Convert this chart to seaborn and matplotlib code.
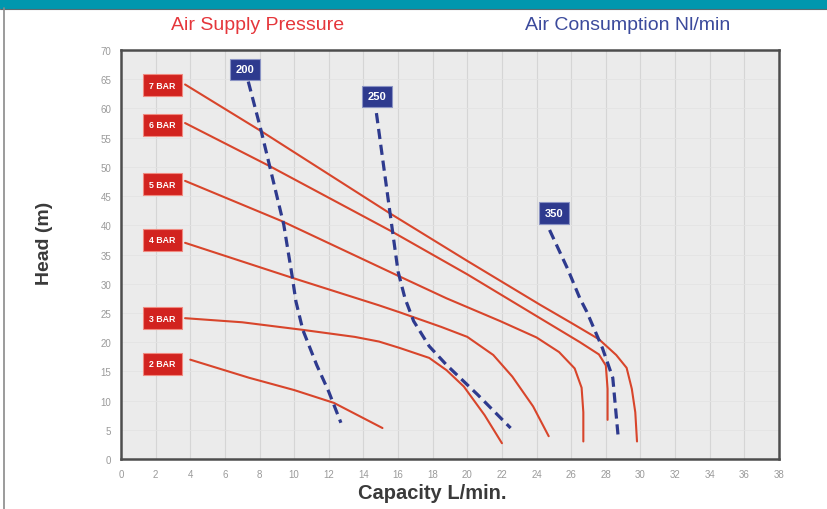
import matplotlib
matplotlib.use("Agg")
import matplotlib.pyplot as plt
import pandas as pd
import seaborn as sns
from matplotlib.patches import Rectangle
from matplotlib.lines import Line2D

# pressure curves (capacity L/min, head m)
bar7_x = [3.7, 8.1, 15.5, 20.0, 24.2, 26.0, 27.6, 28.6, 29.2, 29.5, 29.7, 29.8]
bar7_y = [64.1, 56.1, 42.1, 33.9, 26.4, 23.3, 20.5, 17.8, 15.6, 12.0, 8.0, 3.0]
bar6_x = [3.7, 8.6, 15.6, 20.0, 24.2, 26.5, 27.6, 28.0, 28.1, 28.1]
bar6_y = [57.5, 50.1, 39.0, 31.6, 24.1, 20.0, 17.9, 16.0, 12.0, 6.7]
bar5_x = [3.7, 9.3, 15.9, 18.8, 21.9, 24.0, 25.3, 26.2, 26.6, 26.7, 26.7]
bar5_y = [47.6, 40.7, 31.5, 27.5, 23.6, 20.8, 18.3, 15.5, 12.2, 8.0, 3.0]
bar4_x = [3.7, 9.9, 14.9, 16.1, 18.5, 20.0, 21.5, 22.6, 23.8, 24.7]
bar4_y = [37.0, 31.0, 26.3, 25.1, 22.6, 20.9, 17.8, 14.1, 9.0, 3.9]
bar3_x = [3.7, 7.0, 10.5, 13.5, 14.9, 16.1, 17.8, 18.8, 19.8, 21.0, 22.0]
bar3_y = [24.1, 23.4, 22.1, 20.9, 20.1, 19.0, 17.3, 15.2, 12.4, 7.5, 2.7]
bar2_x = [4.0, 7.4, 10.0, 12.3, 15.1]
bar2_y = [17.0, 13.9, 11.8, 9.6, 5.3]

# air consumption curves
air200_x = [7.35, 8.1, 9.4, 9.9, 10.1, 10.5, 11.3, 12.0, 12.7]
air200_y = [64.6, 56.1, 40.1, 31.0, 27.0, 22.1, 16.1, 11.5, 6.2]
air250_x = [14.75, 15.5, 16.0, 16.4, 16.9, 17.8, 18.8, 20.6, 22.5]
air250_y = [59.2, 42.9, 32.1, 27.5, 23.6, 19.3, 16.1, 11.0, 5.3]
air350_x = [24.75, 25.8, 26.5, 26.9, 27.8, 28.4, 28.7]
air350_y = [39.2, 32.5, 27.5, 25.2, 19.0, 13.9, 4.2]

pressure_labels = ["7 BAR", "6 BAR", "5 BAR", "4 BAR", "3 BAR", "2 BAR"]
air_labels = ["200", "250", "350"]
x_ticks = list(range(0, 39, 2))
y_ticks = list(range(0, 71, 5))

pressure = pd.concat([
    pd.DataFrame({"capacity": x, "head": y, "curve": name})
    for name, x, y in zip(pressure_labels,
                          [bar7_x, bar6_x, bar5_x, bar4_x, bar3_x, bar2_x],
                          [bar7_y, bar6_y, bar5_y, bar4_y, bar3_y, bar2_y])
])
air = pd.concat([
    pd.DataFrame({"capacity": x, "head": y, "curve": name})
    for name, x, y in zip(air_labels,
                          [air200_x, air250_x, air350_x],
                          [air200_y, air250_y, air350_y])
])

red = "#d8452b"
blue = "#2e3a8e"

sns.set_style("white")
plt.rcParams["font.family"] = ["Liberation Sans", "DejaVu Sans"]

fig = plt.figure(figsize=(8.28, 5.10), dpi=100)
ax = fig.add_axes([121 / 828, 1 - 460 / 510, 658 / 828, 409 / 510])
ax.set_facecolor("#ebebeb")

sns.lineplot(data=pressure, x="capacity", y="head", hue="curve",
             palette=[red] * 6, sort=False, estimator=None,
             linewidth=1.5, legend=False, ax=ax, zorder=3)
sns.lineplot(data=air, x="capacity", y="head", hue="curve",
             palette=[blue] * 3, sort=False, estimator=None,
             linewidth=2.3, linestyle=(0, (3.2, 1.8)),
             legend=False, ax=ax, zorder=4)

ax.set_xlim(0, 38)
ax.set_ylim(0, 70)
ax.set_xticks(x_ticks)
ax.set_yticks(y_ticks)
ax.tick_params(length=0, labelsize=7, labelcolor="#9a9a9a", pad=7)
for xv in x_ticks[1:-1]:
    ax.axvline(xv, color="#d5d5d5", lw=0.8, zorder=1)
for yv in y_ticks[1:-1]:
    ax.axhline(yv, color="#e3e3e3", lw=0.6, zorder=1)
for s in ax.spines.values():
    s.set_color("#4d4d4d")
    s.set_linewidth(1.8)

ax.set_xlabel("Capacity L/min.", fontsize=14.5, fontweight="bold",
              color="#3a3a3a")
ax.set_ylabel("Head (m)", fontsize=14, fontweight="bold", color="#3a3a3a")
ax.xaxis.set_label_coords(0.473, -0.058)
ax.yaxis.set_label_coords(-0.104, 0.53)

# curve tags
tag_x = 2.4
tag_y = [64.0, 57.2, 47.0, 37.5, 24.1, 16.3]
for lab, ty in zip(pressure_labels, tag_y):
    ax.text(tag_x, ty, lab, ha="center", va="center", color="white",
            fontsize=6.3, fontweight="bold", zorder=6,
            bbox=dict(boxstyle="square,pad=0.75", fc="#d2231f",
                      ec="#f08a80", lw=0.8))
air_tag_pos = [(7.16, 66.7), (14.77, 62.1), (25.0, 42.1)]
for lab, (tx, ty) in zip(air_labels, air_tag_pos):
    ax.text(tx, ty, lab, ha="center", va="center", color="white",
            fontsize=8, fontweight="bold", zorder=6,
            bbox=dict(boxstyle="square,pad=0.5", fc=blue,
                      ec="#8a93c4", lw=0.8))

fig.text(258 / 828, 1 - 25 / 510, "Air Supply Pressure", color="#e5363b",
         fontsize=14, ha="center", va="center")
fig.text(628 / 828, 1 - 25 / 510, "Air Consumption Nl/min", color="#3b4a9c",
         fontsize=14, ha="center", va="center")

# header strip and frame edge
fig.patches.append(Rectangle((0, 1 - 9 / 510), 1, 9 / 510,
                             transform=fig.transFigure, color="#0097ae",
                             zorder=0))
fig.lines.append(Line2D([0, 1], [1 - 9.5 / 510] * 2, transform=fig.transFigure,
                        color="#5a6b70", lw=0.8))
fig.lines.append(Line2D([4.5 / 828] * 2, [0, 1 - 9 / 510],
                        transform=fig.transFigure, color="#8a8a8a", lw=1.2))

fig.savefig("out.png", dpi=100, facecolor="white")
